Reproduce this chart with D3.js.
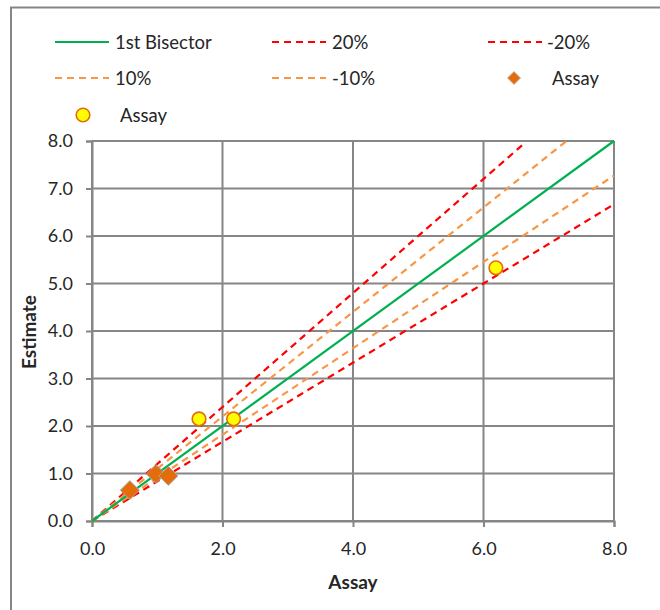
<!DOCTYPE html>
<html><head><meta charset="utf-8">
<script src="https://cdn.jsdelivr.net/npm/d3@7"></script>
<style>body{margin:0;background:#fff}svg{display:block}</style>
</head><body>
<svg id="c" width="660" height="610"></svg>
<script>
const xTicks = [0, 2, 4, 6, 8];
const yTicks = [0, 1, 2, 3, 4, 5, 6, 7, 8];
const lineNames = ["1st Bisector", "20%", "-20%", "10%", "-10%"];
const lineFactors = [1, 1.2, 1 / 1.2, 1.1, 1 / 1.1];
const lineEndX = [8, 6.6, 8, 7.27, 8];
const diamondX = [0.58, 0.98, 1.17];
const diamondY = [0.65, 0.99, 0.95];
const circleX = [1.64, 2.17, 6.19];
const circleY = [2.15, 2.15, 5.33];

const FONT = "Lato, 'Open Sans', sans-serif";
const TXT = "#262626";
const svg = d3.select("#c");
const x = d3.scaleLinear().domain([0, 8]).range([92, 614]);
const y = d3.scaleLinear().domain([0, 8]).range([521, 141]);
const grid = "#868686";

svg.append("rect").attr("x", 11).attr("y", 7.5).attr("width", 700).attr("height", 700)
  .attr("fill", "none").attr("stroke", grid).attr("stroke-width", 2);

svg.append("g").selectAll("line").data(yTicks).join("line")
  .attr("x1", x(0)).attr("x2", x(8)).attr("y1", d => y(d)).attr("y2", d => y(d))
  .attr("stroke", grid).attr("stroke-width", 2);
svg.append("g").selectAll("line").data(xTicks).join("line")
  .attr("y1", y(0)).attr("y2", y(8)).attr("x1", d => x(d)).attr("x2", d => x(d))
  .attr("stroke", grid).attr("stroke-width", 2);

const xa = svg.append("g").attr("transform", `translate(0,${y(0)})`)
  .call(d3.axisBottom(x).tickValues(xTicks).tickFormat(d3.format(".1f")).tickSize(6).tickPadding(15));
const ya = svg.append("g").attr("transform", `translate(${x(0)},0)`)
  .call(d3.axisLeft(y).tickValues(yTicks).tickFormat(d3.format(".1f")).tickSize(6).tickPadding(13));
[xa, ya].forEach(a => {
  a.select(".domain").attr("stroke", grid).attr("stroke-width", 2);
  a.selectAll(".tick line").attr("stroke", grid).attr("stroke-width", 2);
  a.selectAll(".tick text").style("font-size", "18px").style("font-family", FONT).style("fill", TXT);
});

const styles = [
  {c: "#00B050", dash: null},
  {c: "#FF0000", dash: "7,5"},
  {c: "#FF0000", dash: "7,5"},
  {c: "#F79646", dash: "7,5"},
  {c: "#F79646", dash: "7,5"}
];
const line = d3.line().x(d => x(d[0])).y(d => y(d[1]));
[1, 2, 3, 4, 0].forEach(i => {
  svg.append("path").datum([[0, 0], [lineEndX[i], lineEndX[i] * lineFactors[i]]])
    .attr("d", line).attr("fill", "none").attr("stroke", styles[i].c)
    .attr("stroke-width", 2.2).attr("stroke-dasharray", styles[i].dash);
});

const diamond = d3.symbol().type(d3.symbolDiamond2).size(230);
svg.append("g").selectAll("path").data(diamondX.map((d, i) => [d, diamondY[i]])).join("path")
  .attr("d", diamond).attr("transform", d => `translate(${x(d[0])},${y(d[1])})`)
  .attr("fill", "#E46C0A").attr("stroke", "#A6A6A6").attr("stroke-width", 1);

svg.append("g").selectAll("circle").data(circleX.map((d, i) => [d, circleY[i]])).join("circle")
  .attr("cx", d => x(d[0])).attr("cy", d => y(d[1])).attr("r", 6.8)
  .attr("fill", "#FFFF00").attr("stroke", "#E46C0A").attr("stroke-width", 1.6);

function txt(sel) { return sel.style("font-family", FONT).style("fill", TXT); }
txt(svg.append("text")).attr("x", 353).attr("y", 589).attr("text-anchor", "middle")
  .style("font-size", "19px").style("font-weight", "bold").text("Assay");
txt(svg.append("text")).attr("transform", "translate(36,332) rotate(-90)").attr("text-anchor", "middle")
  .style("font-size", "19px").style("font-weight", "bold").text("Estimate");

const leg = svg.append("g");
const legItems = [
  {t: lineNames[0], s: 0, lx: 55, tx: 115, ly: 42},
  {t: lineNames[1], s: 1, lx: 272, tx: 332, ly: 42},
  {t: lineNames[2], s: 2, lx: 488, tx: 547, ly: 42},
  {t: lineNames[3], s: 3, lx: 55, tx: 115, ly: 78},
  {t: lineNames[4], s: 4, lx: 272, tx: 332, ly: 78}
];
legItems.forEach(d => {
  leg.append("line").attr("x1", d.lx).attr("x2", d.lx + 54).attr("y1", d.ly).attr("y2", d.ly)
    .attr("stroke", styles[d.s].c).attr("stroke-width", 2.2).attr("stroke-dasharray", styles[d.s].dash);
  txt(leg.append("text")).attr("x", d.tx).attr("y", d.ly + 6.5).style("font-size", "18.5px").text(d.t);
});
leg.append("path").attr("d", d3.symbol().type(d3.symbolDiamond2).size(110))
  .attr("transform", "translate(514,78)").attr("fill", "#E46C0A").attr("stroke", "#BFBFBF").attr("stroke-width", 1);
txt(leg.append("text")).attr("x", 552).attr("y", 84.5).style("font-size", "18.5px").text("Assay");
leg.append("circle").attr("cx", 83).attr("cy", 115).attr("r", 6.8)
  .attr("fill", "#FFFF00").attr("stroke", "#E46C0A").attr("stroke-width", 1.6);
txt(leg.append("text")).attr("x", 120).attr("y", 121.5).style("font-size", "18.5px").text("Assay");
</script>
</body></html>
